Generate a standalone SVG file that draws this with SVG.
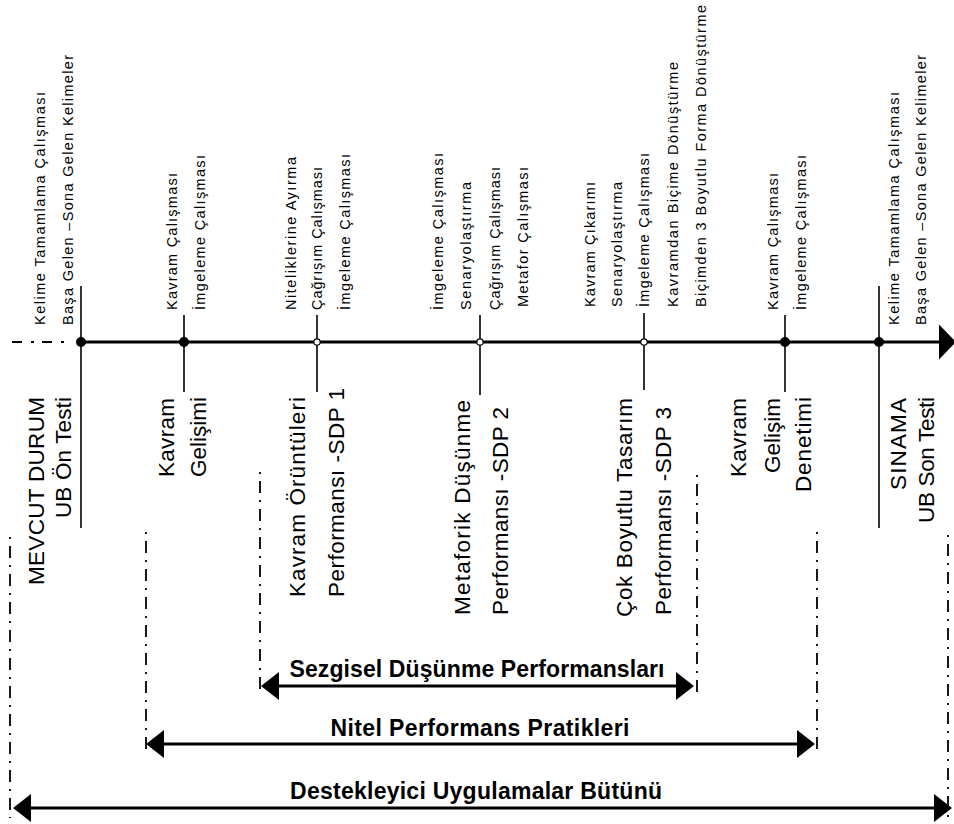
<svg xmlns="http://www.w3.org/2000/svg" width="954" height="824" viewBox="0 0 954 824" xml:space="preserve">
<style>
text{font-family:"Liberation Sans",Arial,sans-serif;fill:#000}
.s{font-size:14.5px}
.m{font-size:22.5px}
.b{font-size:23px;font-weight:bold}
.tick{stroke:#000;stroke-width:1.6;fill:none}
.dd{stroke:#000;stroke-width:1.8;fill:none;stroke-dasharray:2 7 12 7}
.axis{stroke:#000;stroke-width:3;fill:none}
.rng{stroke:#000;stroke-width:3;fill:none;marker-start:url(#ah);marker-end:url(#ah)}
.full{fill:#000}
.open{fill:#fff;stroke:#000;stroke-width:1.2}
</style>
<defs>
<marker id="ah" markerUnits="userSpaceOnUse" markerWidth="20" markerHeight="30" refX="0" refY="14" orient="auto-start-reverse" overflow="visible"><path d="M0,0 L18,14 L0,28 Z" fill="#000"/></marker>
<marker id="axh" markerUnits="userSpaceOnUse" markerWidth="20" markerHeight="36" refX="0" refY="17.5" orient="auto" overflow="visible"><path d="M0,0 L17,17.5 L0,35 Z" fill="#000"/></marker>
</defs>

<g id="connectors">
<line x1="12" y1="342" x2="68" y2="342" stroke="#000" stroke-width="2" stroke-dasharray="10 9 3 8"/>
<line class="axis" x1="78" y1="342" x2="939" y2="342" marker-end="url(#axh)"/>
<line class="dd" x1="10" y1="537" x2="10" y2="818"/>
<line class="dd" x1="146" y1="532" x2="146" y2="752"/>
<line class="dd" x1="260" y1="472" x2="260" y2="692"/>
<line class="dd" x1="697" y1="475" x2="697" y2="692"/>
<line class="dd" x1="817" y1="532" x2="817" y2="752"/>
<line class="dd" x1="948" y1="535" x2="948" y2="818"/>
<line class="rng" x1="279" y1="686" x2="676" y2="686"/>
<line class="rng" x1="164" y1="744" x2="797" y2="744"/>
<line class="rng" x1="31" y1="808" x2="934" y2="808"/>
</g>

<g id="node1">
<line class="tick" x1="81" y1="286" x2="81" y2="528"/>
<circle class="full" cx="81" cy="342" r="5"/>
<text class="s" transform="translate(45,325) rotate(-90)" textLength="233" lengthAdjust="spacing">Kelime Tamamlama Çalışması</text>
<text class="s" transform="translate(73,325) rotate(-90)" textLength="270" lengthAdjust="spacing">Başa Gelen –Sona Gelen Kelimeler</text>
<text class="m" transform="translate(44,585) rotate(-90)" textLength="188" lengthAdjust="spacing">MEVCUT DURUM</text>
<text class="m" transform="translate(71,518) rotate(-90)" textLength="121" lengthAdjust="spacing">UB Ön Testi</text>
</g>

<g id="node2">
<line class="tick" x1="184" y1="315" x2="184" y2="392"/>
<circle class="full" cx="184" cy="342" r="5"/>
<text class="s" transform="translate(177,310) rotate(-90)" textLength="137" lengthAdjust="spacing">Kavram Çalışması</text>
<text class="s" transform="translate(205,310) rotate(-90)" textLength="155" lengthAdjust="spacing">İmgeleme  Çalışması</text>
<text class="m" transform="translate(174,477) rotate(-90)" textLength="79" lengthAdjust="spacing">Kavram</text>
<text class="m" transform="translate(206,477) rotate(-90)" textLength="80" lengthAdjust="spacing">Gelişimi</text>
</g>

<g id="node3">
<line class="tick" x1="317" y1="315" x2="317" y2="392"/>
<circle class="open" cx="317" cy="342" r="3.2"/>
<text class="s" transform="translate(296,310) rotate(-90)" textLength="153" lengthAdjust="spacing">Niteliklerine Ayırma</text>
<text class="s" transform="translate(322,310) rotate(-90)" textLength="143" lengthAdjust="spacing">Çağrışım Çalışması</text>
<text class="s" transform="translate(350,310) rotate(-90)" textLength="156" lengthAdjust="spacing">İmgeleme  Çalışması</text>
<text class="m" transform="translate(305,597) rotate(-90)" textLength="200" lengthAdjust="spacing">Kavram Örüntüleri</text>
<text class="m" transform="translate(344,597) rotate(-90)" textLength="209" lengthAdjust="spacing">Performansı -SDP 1</text>
</g>

<g id="node4">
<line class="tick" x1="480" y1="315" x2="480" y2="395"/>
<circle class="open" cx="480" cy="342" r="3.2"/>
<text class="s" transform="translate(443,310) rotate(-90)" textLength="157" lengthAdjust="spacing">İmgeleme  Çalışması</text>
<text class="s" transform="translate(471,310) rotate(-90)" textLength="128" lengthAdjust="spacing">Senaryolaştırma</text>
<text class="s" transform="translate(500,310) rotate(-90)" textLength="143" lengthAdjust="spacing">Çağrışım Çalışması</text>
<text class="s" transform="translate(528,307) rotate(-90)" textLength="140" lengthAdjust="spacing">Metafor Çalışması</text>
<text class="m" transform="translate(470,615) rotate(-90)" textLength="215" lengthAdjust="spacing">Metaforik Düşünme</text>
<text class="m" transform="translate(508,615) rotate(-90)" textLength="208" lengthAdjust="spacing">Performansı -SDP 2</text>
</g>

<g id="node5">
<line class="tick" x1="644" y1="313" x2="644" y2="390"/>
<circle class="open" cx="644" cy="342" r="3.2"/>
<text class="s" transform="translate(595,307) rotate(-90)" textLength="125" lengthAdjust="spacing">Kavram Çıkarımı</text>
<text class="s" transform="translate(622,307) rotate(-90)" textLength="125" lengthAdjust="spacing">Senaryolaştırma</text>
<text class="s" transform="translate(649,307) rotate(-90)" textLength="154" lengthAdjust="spacing">İmgeleme  Çalışması</text>
<text class="s" transform="translate(678,307) rotate(-90)" textLength="245" lengthAdjust="spacing">Kavramdan  Biçime Dönüştürme</text>
<text class="s" transform="translate(706,307) rotate(-90)" textLength="302" lengthAdjust="spacing">Biçimden 3 Boyutlu Forma Dönüştürme</text>
<text class="m" transform="translate(632,617) rotate(-90)" textLength="219" lengthAdjust="spacing">Çok Boyutlu Tasarım</text>
<text class="m" transform="translate(671,615) rotate(-90)" textLength="208" lengthAdjust="spacing">Performansı -SDP 3</text>
</g>

<g id="node6">
<line class="tick" x1="785" y1="315" x2="785" y2="392"/>
<circle class="full" cx="785" cy="342" r="5"/>
<text class="s" transform="translate(778,310) rotate(-90)" textLength="137" lengthAdjust="spacing">Kavram Çalışması</text>
<text class="s" transform="translate(806,310) rotate(-90)" textLength="155" lengthAdjust="spacing">İmgeleme  Çalışması</text>
<text class="m" transform="translate(746,477) rotate(-90)" textLength="79" lengthAdjust="spacing">Kavram</text>
<text class="m" transform="translate(780,473) rotate(-90)" textLength="75" lengthAdjust="spacing">Gelişim</text>
<text class="m" transform="translate(811,492) rotate(-90)" textLength="95" lengthAdjust="spacing">Denetimi</text>
</g>

<g id="node7">
<line class="tick" x1="879" y1="286" x2="879" y2="528"/>
<circle class="full" cx="879" cy="342" r="5"/>
<text class="s" transform="translate(899,325) rotate(-90)" textLength="233" lengthAdjust="spacing">Kelime Tamamlama Çalışması</text>
<text class="s" transform="translate(926,325) rotate(-90)" textLength="270" lengthAdjust="spacing">Başa Gelen –Sona Gelen Kelimeler</text>
<text class="m" transform="translate(906,490) rotate(-90)" textLength="92" lengthAdjust="spacing">SINAMA</text>
<text class="m" transform="translate(934,523) rotate(-90)" textLength="126" lengthAdjust="spacing">UB Son Testi</text>
</g>

<g id="range-labels">
<text class="b" x="477" y="677" text-anchor="middle" textLength="375" lengthAdjust="spacing">Sezgisel Düşünme Performansları</text>
<text class="b" x="480" y="736" text-anchor="middle" textLength="299" lengthAdjust="spacing">Nitel Performans Pratikleri</text>
<text class="b" x="476" y="799" text-anchor="middle" textLength="372" lengthAdjust="spacing">Destekleyici Uygulamalar Bütünü</text>
</g>
</svg>
